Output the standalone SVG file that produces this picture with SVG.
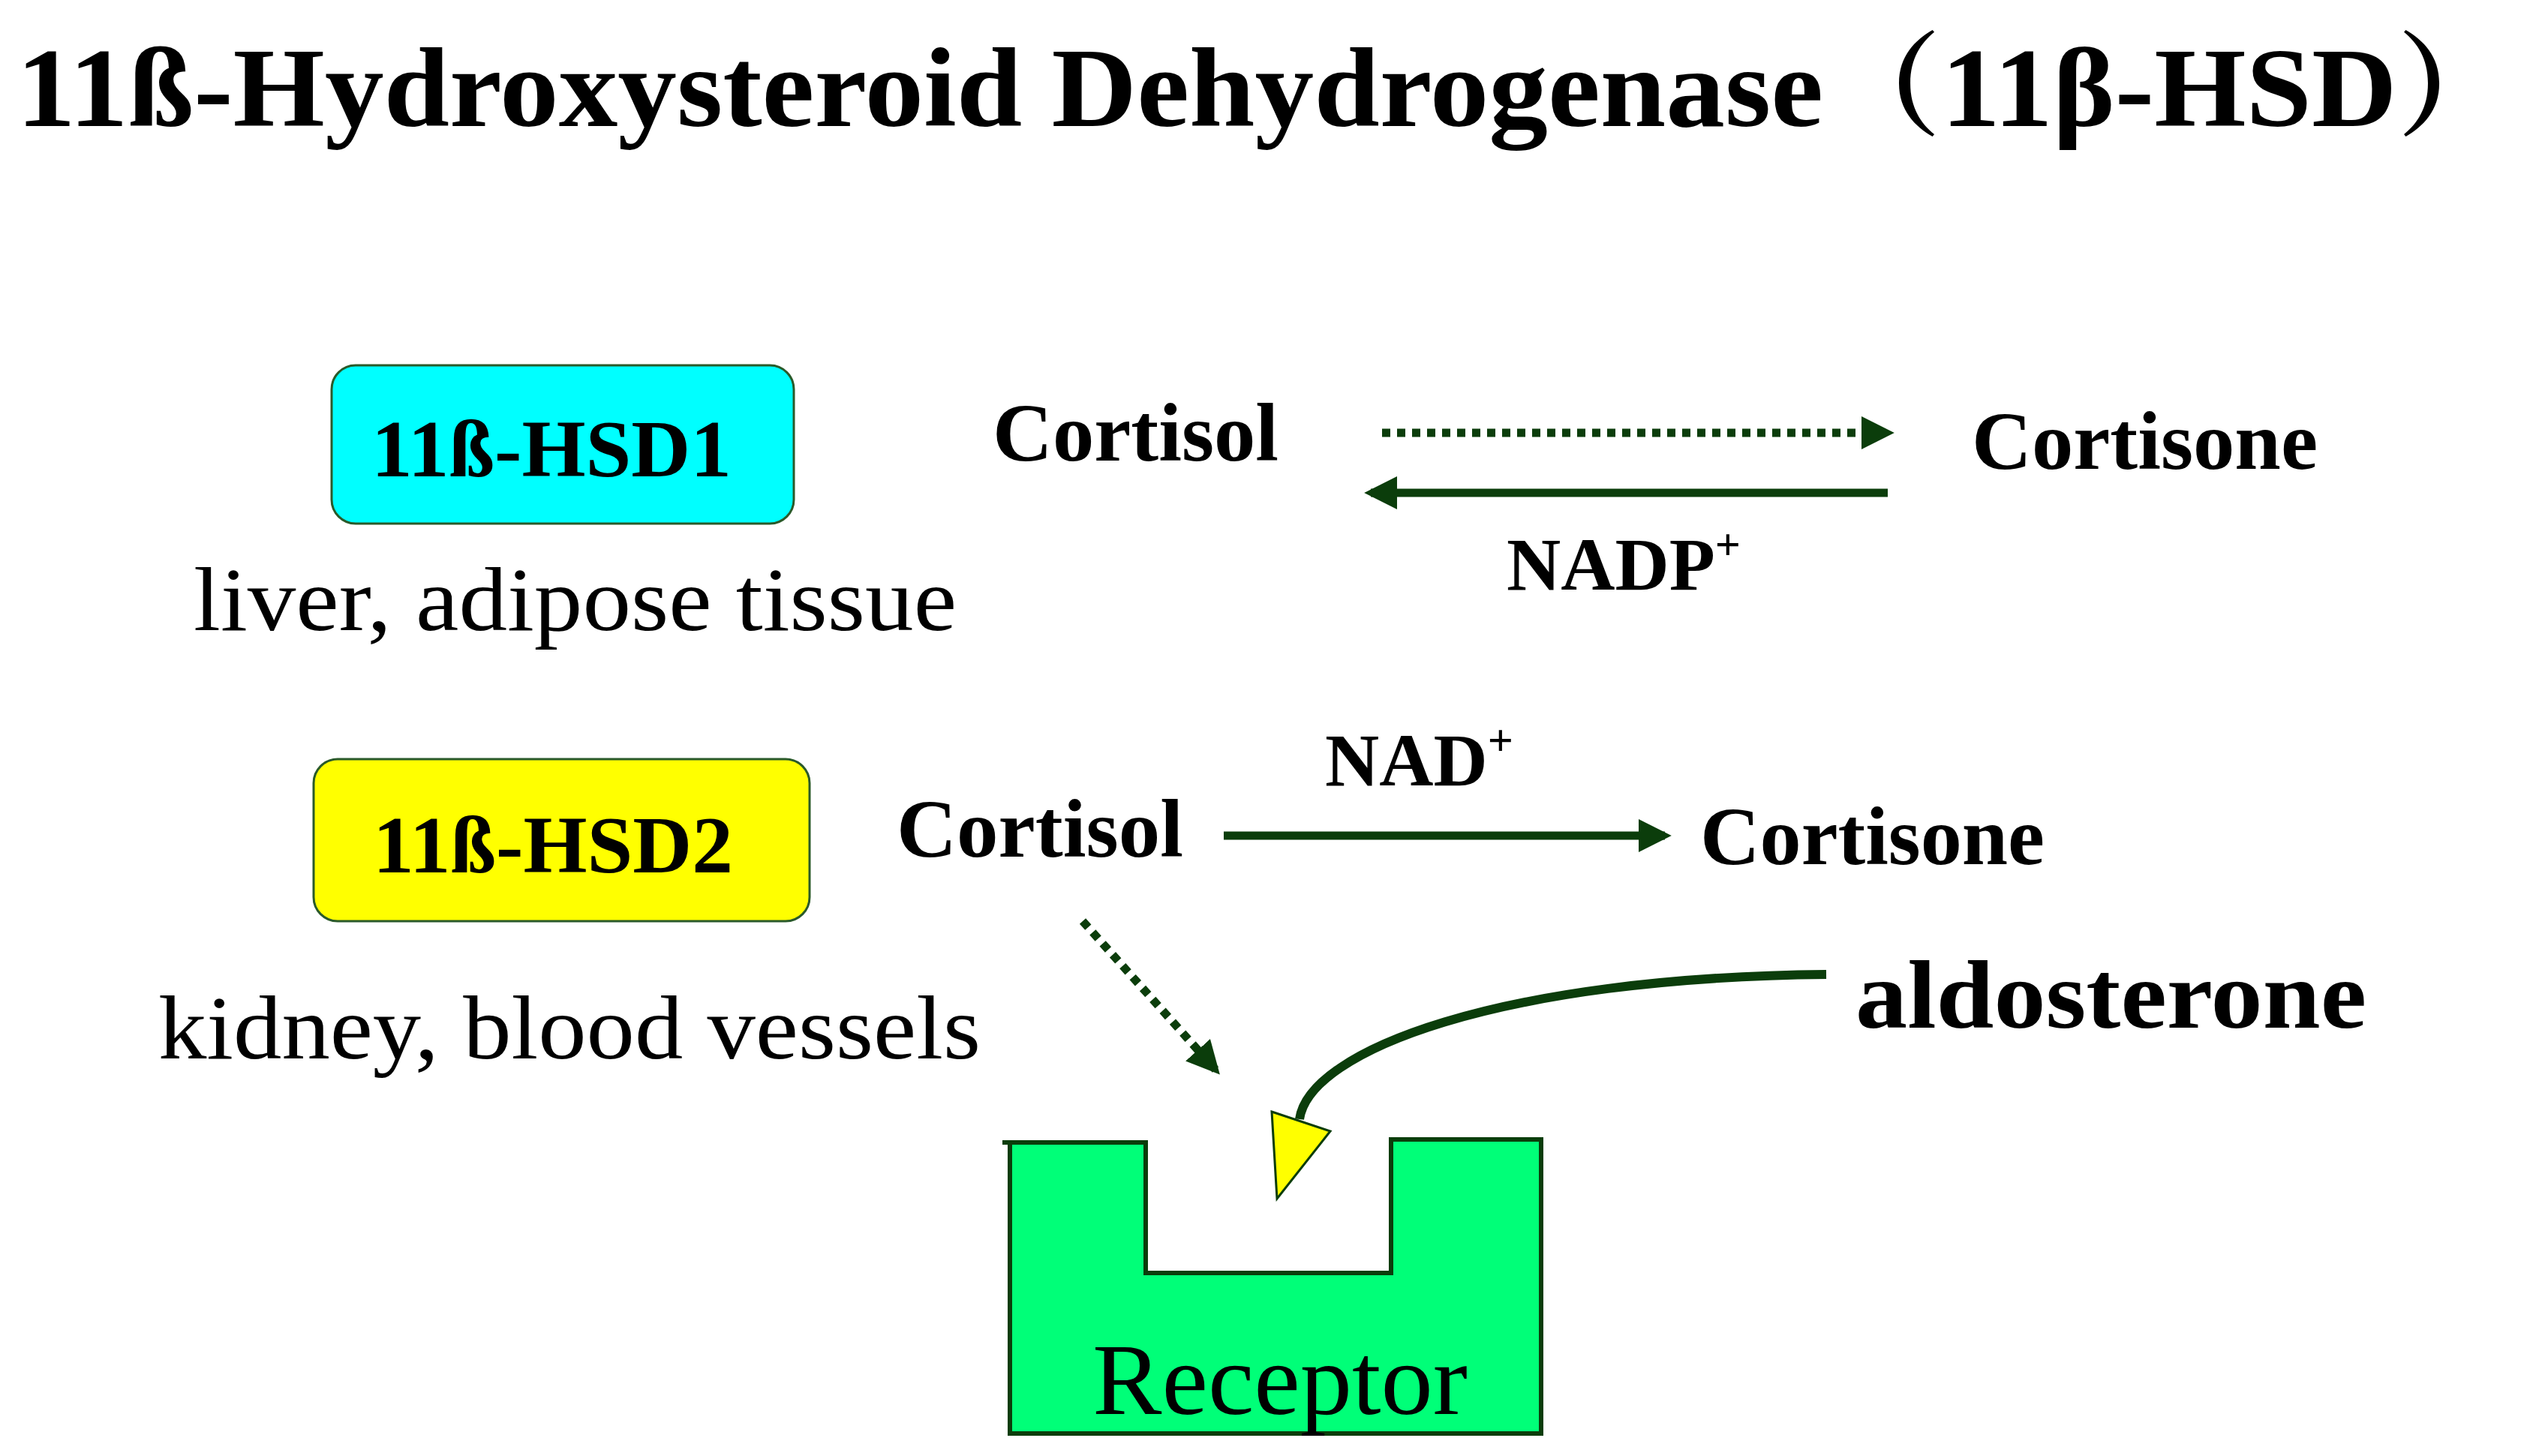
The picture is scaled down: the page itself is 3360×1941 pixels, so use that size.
<svg xmlns="http://www.w3.org/2000/svg" width="3360" height="1941" viewBox="0 0 3360 1941">
<style>
.b{font-family:"Liberation Serif","Noto Serif CJK SC",serif;font-weight:bold;fill:#000}
.r{font-family:"Liberation Serif",serif;fill:#000}
.ln{stroke:#0b3d0b;stroke-width:11;fill:none}
</style>
<defs>
<marker id="ah" viewBox="0 0 10 10" refX="8" refY="5" markerWidth="4" markerHeight="4" orient="auto" markerUnits="strokeWidth"><path d="M0,0L10,5L0,10z" fill="#0b3d0b"/></marker>
</defs>
<rect width="3360" height="1941" fill="#fff"/>
<text id="title" class="b" x="22" y="168" font-size="150" textLength="3330" lengthAdjust="spacingAndGlyphs">11ß-Hydroxysteroid Dehydrogenase（11β-HSD）</text>
<g id="hsd1"><rect x="442" y="487" width="616" height="211" rx="32" fill="#00ffff" stroke="#2a5a2a" stroke-width="3"/><text class="b" x="735" y="635" font-size="108" text-anchor="middle" textLength="480" lengthAdjust="spacingAndGlyphs">11ß-HSD1</text></g>
<text class="r" x="258" y="840" font-size="120" textLength="1017" lengthAdjust="spacingAndGlyphs">liver, adipose tissue</text>
<g id="cortisol1"><text class="b" x="1323" y="614" font-size="110" textLength="381" lengthAdjust="spacingAndGlyphs">Cortisol</text></g>
<g id="cortisone1"><text class="b" x="2628" y="625" font-size="110" textLength="461" lengthAdjust="spacingAndGlyphs">Cortisone</text></g>
<text class="b" x="2008" y="786" font-size="100">NADP<tspan font-size="60" dy="-40">+</tspan></text>
<g id="hsd2"><rect x="418" y="1012" width="661" height="216" rx="32" fill="#ffff00" stroke="#2a5a2a" stroke-width="3"/><text class="b" x="737" y="1163" font-size="108" text-anchor="middle" textLength="480" lengthAdjust="spacingAndGlyphs">11ß-HSD2</text></g>
<text class="r" x="211" y="1411" font-size="120" textLength="1096" lengthAdjust="spacingAndGlyphs">kidney, blood vessels</text>
<g id="cortisol2"><text class="b" x="1195" y="1142" font-size="110" textLength="382" lengthAdjust="spacingAndGlyphs">Cortisol</text></g>
<g id="cortisone2"><text class="b" x="2266" y="1152" font-size="110" textLength="459" lengthAdjust="spacingAndGlyphs">Cortisone</text></g>
<text class="b" x="1766" y="1047" font-size="100">NAD<tspan font-size="60" dy="-40">+</tspan></text>
<g id="aldosterone"><text class="b" x="2473" y="1370" font-size="130" textLength="681" lengthAdjust="spacingAndGlyphs">aldosterone</text></g>
<g id="receptor">
<path d="M1346 1523H1527V1697H1854V1519H2054V1911H1346Z" fill="#00ff78" stroke="#0b3d0b" stroke-width="6"/>
<line x1="1336" y1="1523" x2="1346" y2="1523" stroke="#0b3d0b" stroke-width="6"/>
<text class="r" x="1706" y="1885" font-size="135" text-anchor="middle" textLength="500" lengthAdjust="spacingAndGlyphs">Receptor</text>
</g>
<g id="connectors">
<line class="ln" x1="1842" y1="577" x2="2516" y2="577" stroke-dasharray="11 9" marker-end="url(#ah)"/>
<line class="ln" x1="2516" y1="657" x2="1827" y2="657" marker-end="url(#ah)"/>
<line class="ln" x1="1631" y1="1114" x2="2219" y2="1114" marker-end="url(#ah)"/>
<line class="ln" x1="1443" y1="1228" x2="1620" y2="1426" stroke-dasharray="11 9" marker-end="url(#ah)"/>
<path d="M2434 1299C2000 1303 1745 1400 1732 1492" stroke="#0b3d0b" stroke-width="12" fill="none"/>
<polygon points="1695,1482 1773,1508 1702,1598" fill="#ffff00" stroke="#0b3d0b" stroke-width="3"/>
</g>
</svg>
